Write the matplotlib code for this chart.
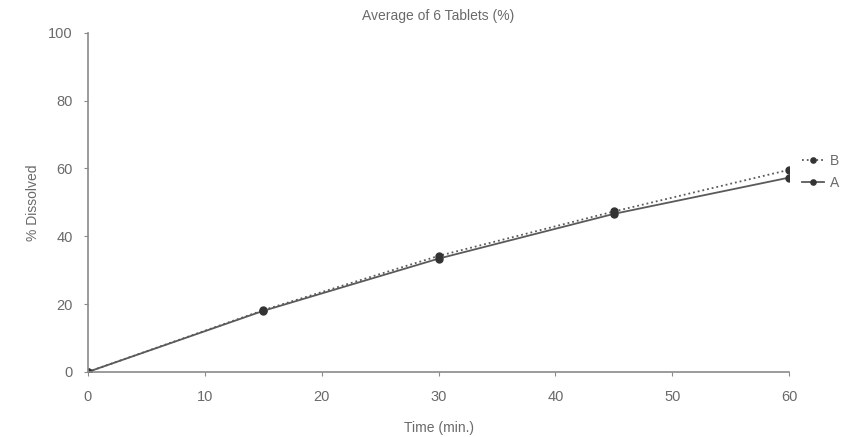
import matplotlib
matplotlib.use('Agg')
import matplotlib.pyplot as plt

# 溶出数据（6片平均）
time = [0, 15, 30, 45, 60]
series_a = [0, 18.0, 33.4, 46.6, 57.3]
series_b = [0, 18.2, 34.2, 47.3, 59.6]

x_ticks = [0, 10, 20, 30, 40, 50, 60]
y_ticks = [0, 20, 40, 60, 80, 100]

plt.rcParams['font.family'] = ['Liberation Sans', 'DejaVu Sans']

fig = plt.figure(figsize=(8.5, 4.37), dpi=100)
ax = fig.add_axes([0.1035, 0.149, 0.825, 0.776])

txt = '#6a6a6a'
line_c = '#5a5a5a'

lb, = ax.plot(time, series_b, ls=':', lw=1.3, color=line_c, marker='o', ms=5,
              mfc='#333333', mec='#333333', label='B')
la, = ax.plot(time, series_a, ls='-', lw=1.3, color=line_c, marker='o', ms=5,
              mfc='#333333', mec='#333333', label='A')

ax.set_xlim(0, 60)
ax.set_ylim(0, 100)
ax.set_xticks(x_ticks)
ax.set_yticks(y_ticks)
for s in ['top', 'right']:
    ax.spines[s].set_visible(False)
for s in ['left', 'bottom']:
    ax.spines[s].set_color('#8a8a8a')
    ax.spines[s].set_linewidth(1.2)
ax.tick_params(colors='#8a8a8a', labelcolor=txt, labelsize=10.5, length=3, width=0.8)
ax.tick_params(axis='x', pad=10)
ax.tick_params(axis='y', pad=8)

ax.set_title('Average of 6 Tablets (%)', fontsize=10, color=txt, pad=9)
ax.set_xlabel('Time (min.)', fontsize=10, color=txt, labelpad=12)
ax.set_ylabel('% Dissolved', fontsize=10, color=txt, labelpad=6)

ax.legend(handles=[lb, la], loc='center left', bbox_to_anchor=(1.0, 0.59),
          frameon=False, fontsize=10, labelcolor=txt, handlelength=1.6,
          handletextpad=0.4, labelspacing=0.6, markerscale=0.75)

fig.savefig('out.png', dpi=100, facecolor='white')
